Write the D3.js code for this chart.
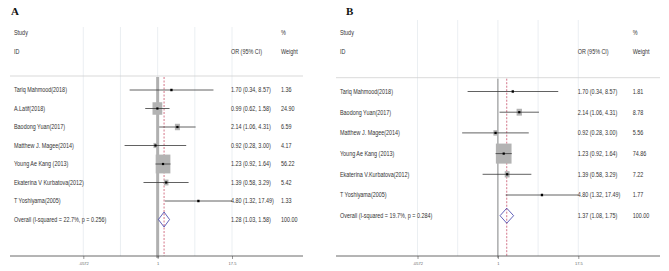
<!DOCTYPE html>
<html><head><meta charset="utf-8">
<script src="https://cdn.jsdelivr.net/npm/d3@7"></script>
<style>body{margin:0;background:#fff}svg{display:block}text{font-family:"Liberation Sans",Arial,sans-serif}</style>
</head><body>
<svg id="c" width="669" height="271"></svg>
<script>
// ---- Data ----
const studiesA = ["Tariq Mahmood(2018)","A.Latif(2018)","Baodong Yuan(2017)","Matthew J. Magee(2014)","Young Ae Kang (2013)","Ekaterina V Kurbatova(2012)","T Yoshiyama(2005)"];
const orA = [1.70,0.99,2.14,0.92,1.23,1.39,4.80];
const lowA = [0.34,0.62,1.06,0.28,0.92,0.58,1.32];
const highA = [8.57,1.58,4.31,3.00,1.64,3.29,17.49];
const weightA = [1.36,24.90,6.59,4.17,56.22,5.42,1.33];
const overallA = {label:"Overall  (I-squared = 22.7%, p = 0.256)", or:1.28, low:1.03, high:1.58, weight:100.00};

const studiesB = ["Tariq Mahmood(2018)","Baodong Yuan(2017)","Matthew J. Magee(2014)","Young Ae Kang (2013)","Ekaterina V.Kurbatova(2012)","T Yoshiyama(2005)"];
const orB = [1.70,2.14,0.92,1.23,1.39,4.80];
const lowB = [0.34,1.06,0.28,0.92,0.58,1.32];
const highB = [8.57,4.31,3.00,1.64,3.29,17.49];
const weightB = [1.81,8.78,5.56,74.86,7.22,1.77];
const overallB = {label:"Overall  (I-squared = 19.7%, p = 0.284)", or:1.37, low:1.08, high:1.75, weight:100.00};

const tickValues = [1/17.5, 1, 17.5];
const tickLabels = [".0572", "1", "17.5"];
const gridValues = [1/17.5, 1/Math.sqrt(17.5), 1, Math.sqrt(17.5), 17.5];

const svg = d3.select("#c");
const SX = 0.81; // horizontal text compression

function txt(g, x, y, s, size, opts={}) {
  const t = g.append("text")
    .attr("transform", `translate(${x},${y}) scale(${opts.sx||SX},1)`)
    .attr("font-size", size)
    .attr("fill", opts.fill || "#333")
    .text(s);
  if (opts.bold) t.attr("font-weight", "bold");
  if (opts.family) t.style("font-family", opts.family);
  if (opts.anchor) t.attr("text-anchor", opts.anchor);
  return t;
}

function panel(cfg) {
  const g = svg.append("g");
  const x = d3.scaleLog().domain([1/17.5, 17.5]).range(cfg.xr);
  const n = cfg.studies.length;
  const y = d3.scaleLinear().domain([0, n]).range([cfg.y0, cfg.y0 + n*cfg.dy]);
  const fs = 6.7;

  // gridlines
  g.selectAll("line.grid").data(gridValues).join("line")
    .attr("x1", d=>x(d)).attr("x2", d=>x(d))
    .attr("y1", cfg.gridTop).attr("y2", cfg.axisY)
    .attr("stroke", "#e6ebef").attr("stroke-width", 0.8);

  // panel label
  txt(g, cfg.labelX, 15, cfg.label, 11, {bold:true, family:"'Liberation Serif','Times New Roman',serif", fill:"#111", sx:1});
  // headers
  txt(g, cfg.left+4, 35, "Study", fs);
  txt(g, cfg.left+4, 54, "ID", fs);
  txt(g, cfg.wX, 35, "%", fs);
  txt(g, cfg.orX, 54, "OR (95% CI)", fs);
  txt(g, cfg.wX, 54, "Weight", fs);
  g.append("line").attr("x1", cfg.left).attr("x2", cfg.right)
    .attr("y1", cfg.hline).attr("y2", cfg.hline).attr("stroke", "#cfcfcf").attr("stroke-width", 0.8);

  // null line
  g.append("line").attr("x1", x(1)).attr("x2", x(1))
    .attr("y1", cfg.hline+1).attr("y2", cfg.axisY+2)
    .attr("stroke", cfg.nullColor).attr("stroke-width", cfg.nullW);

  // pooled dashed line
  g.append("line").attr("x1", x(cfg.overall.or)).attr("x2", x(cfg.overall.or))
    .attr("y1", cfg.hline+1).attr("y2", cfg.axisY)
    .attr("stroke", "#c8506a").attr("stroke-width", 0.8).attr("stroke-dasharray", "2,1.5");

  const rows = cfg.studies.map((s,i)=>({s, or:cfg.or[i], lo:cfg.low[i], hi:cfg.high[i], w:cfg.weight[i], i}));
  const fmt = d3.format(".2f");
  rows.forEach(r => {
    const yy = y(r.i);
    const bw = cfg.k*Math.sqrt(r.w), bh = bw*1.28;
    g.append("rect").attr("x", x(r.or)-bw/2).attr("y", yy-bh/2).attr("width", bw).attr("height", bh)
      .attr("fill", "#b3b3b3");
    const hiClamp = Math.min(r.hi, 17.5);
    g.append("line").attr("x1", x(r.lo)).attr("x2", x(hiClamp)).attr("y1", yy).attr("y2", yy)
      .attr("stroke", "#3a3a3a").attr("stroke-width", 0.8);
    if (r.hi > 17.5) {
      const xe = x(17.5);
      g.append("path").attr("d", `M${xe-3},${yy-4.5}L${xe},${yy}L${xe-3},${yy+4.5}`)
        .attr("fill", "none").attr("stroke", "#3a3a3a").attr("stroke-width", 0.8);
    }
    g.append("rect").attr("x", x(r.or)-1.1).attr("y", yy-1.1).attr("width", 2.2).attr("height", 2.2).attr("fill", "#000");
    txt(g, cfg.left+4, yy+2.3, r.s, fs);
    txt(g, cfg.orX + (r.hi > 17.5 ? 2 : 0), yy+2.3, `${fmt(r.or)} (${fmt(r.lo)}, ${fmt(r.hi)})`, fs);
    txt(g, cfg.wX, yy+2.3, fmt(r.w), fs);
  });

  // overall
  const yo = y(n);
  const o = cfg.overall;
  g.append("path")
    .attr("d", `M${x(o.low)},${yo}L${x(o.or)},${yo-7.5}L${x(o.high)},${yo}L${x(o.or)},${yo+7.5}Z`)
    .attr("fill", "none").attr("stroke", "#3b3ba8").attr("stroke-width", 0.8);
  txt(g, cfg.left+4, yo+2.3, o.label, fs);
  txt(g, cfg.orX, yo+2.3, `${fmt(o.or)} (${fmt(o.low)}, ${fmt(o.high)})`, fs);
  txt(g, cfg.wX, yo+2.3, fmt(o.weight), fs);

  // axis
  const axis = d3.axisBottom(x).tickValues(tickValues).tickFormat((d,i)=>tickLabels[i]).tickSize(3).tickPadding(3);
  const ag = g.append("g").attr("transform", `translate(0,${cfg.axisY})`).call(axis);
  ag.select(".domain").remove();
  ag.selectAll(".tick line").attr("stroke", "#555").attr("stroke-width", 0.6);
  ag.selectAll(".tick text").attr("font-size", 4).attr("fill", "#666").style("font-family", "'Liberation Sans',Arial,sans-serif");
  g.append("line").attr("x1", cfg.left).attr("x2", cfg.right).attr("y1", cfg.axisY).attr("y2", cfg.axisY)
    .attr("stroke", "#444").attr("stroke-width", 0.8);
}

panel({label:"A", labelX:11, studies:studiesA, or:orA, low:lowA, high:highA, weight:weightA, overall:overallA,
  xr:[83.3, 232], y0:90, dy:18.5, left:10, right:303, hline:76, gridTop:27, axisY:256,
  orX:231, wX:281, k:1.96, nullColor:"#b0b0b0", nullW:3});
panel({label:"B", labelX:346, studies:studiesB, or:orB, low:lowB, high:highB, weight:weightB, overall:overallB,
  xr:[417.5, 578.3], y0:91.5, dy:20.7, left:336, right:660, hline:77.7, gridTop:20, axisY:256,
  orX:577.7, wX:632.7, k:1.81, nullColor:"#8a8a8a", nullW:1});
</script>
</body></html>
